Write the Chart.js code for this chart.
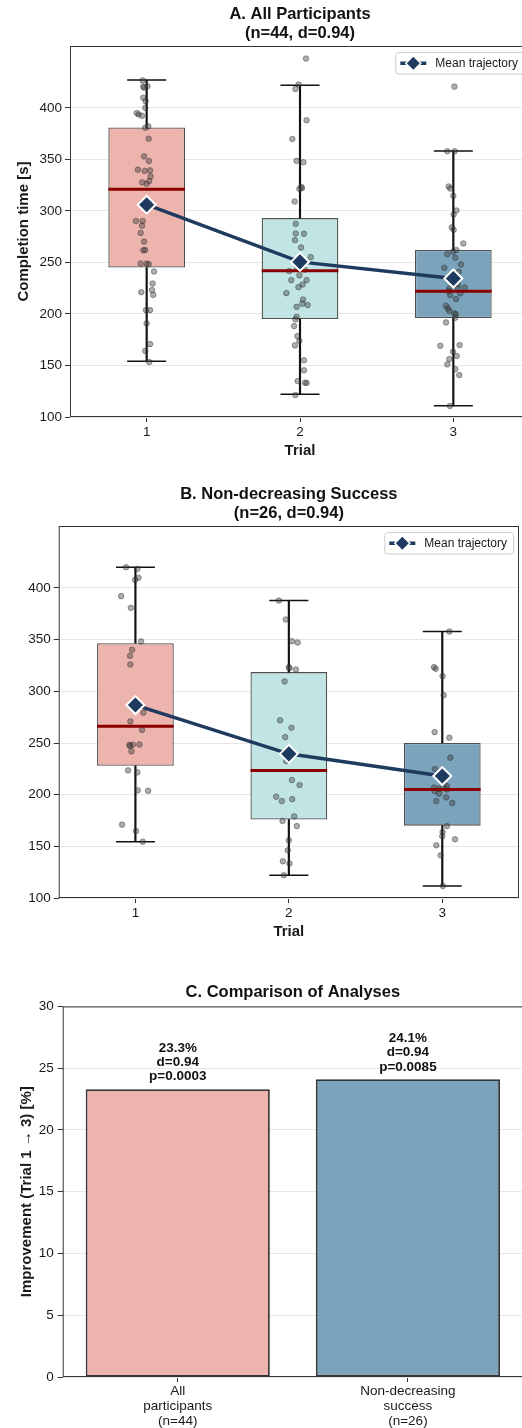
<!DOCTYPE html>
<html>
<head>
<meta charset="utf-8">
<script src="https://cdn.jsdelivr.net/npm/chart.js@4.4.0/dist/chart.umd.min.js"></script>
<style>
  html, body { margin: 0; padding: 0; background: #fff; overflow: hidden; width: 522px; height: 1428px; }
  canvas { position: absolute; left: 0; }
  #chartA { top: 0; }
  #chartB { top: 480px; }
  #chartC { top: 978px; }
</style>
</head>
<body>
<canvas id="chartA" width="530" height="463"></canvas>
<canvas id="chartB" width="519" height="464"></canvas>
<canvas id="chartC" width="523" height="450"></canvas>
<script>
const trials = [1, 2, 3];
const trialLabels = ['1', '2', '3'];

// A. all participants (n=44), completion time per trial [s]
const allT1 = [426.6, 420.7, 419.5, 409.8, 406.5, 400.0, 394.9, 393.6, 392.3, 380.7, 382.0, 370.0, 352.9, 348.4, 340.0, 338.7, 339.3, 333.5, 327.7, 326.4, 329.0, 290.2, 290.2, 285.7, 278.6, 270.2, 261.8, 248.9, 248.9, 248.3, 241.2, 229.6, 223.1, 221.1, 218.5, 203.7, 203.7, 190.8, 170.7, 164.2, 153.3, 421.0, 305.0, 262.0];
const allT2 = [447.8, 422.6, 418.3, 388.0, 369.8, 348.5, 347.2, 323.3, 321.4, 322.0, 309.1, 287.4, 278.1, 277.8, 271.6, 264.5, 255.1, 241.6, 232.8, 237.4, 232.8, 228.6, 220.2, 214.0, 206.9, 208.6, 197.3, 194.7, 188.2, 178.5, 174.0, 169.5, 155.0, 145.3, 134.9, 133.3, 133.0, 121.3, 250.0, 248.0, 244.0, 243.0, 226.0, 210.0];
const allT3 = [420.6, 357.9, 357.9, 323.7, 321.7, 314.6, 300.4, 296.5, 281.6, 268.4, 260.3, 254.5, 244.8, 240.9, 224.8, 225.7, 224.8, 218.3, 214.4, 208.0, 205.4, 202.8, 200.5, 199.6, 196.3, 191.8, 169.1, 169.8, 163.3, 159.1, 156.2, 151.1, 146.5, 140.7, 110.7, 236.0, 232.0, 229.0, 222.0, 220.0, 262.0, 258.0, 248.0, 284.0];
// horizontal jitter of each dot, in trial units
const allJit1 = [-0.026, -0.022, -0.017, -0.022, -0.007, -0.009, -0.065, -0.052, -0.030, -0.009, 0.011, 0.013, -0.017, 0.015, -0.057, -0.013, 0.022, 0.026, -0.030, 0.000, 0.017, -0.070, -0.026, -0.030, -0.039, -0.017, -0.022, -0.039, 0.000, 0.013, 0.048, 0.039, 0.035, -0.035, 0.043, -0.004, 0.022, 0.000, 0.022, -0.009, 0.017, 0.005, 0.030, -0.010];
const allJit2 = [0.039, -0.009, -0.030, 0.043, -0.050, -0.022, 0.022, 0.009, -0.004, 0.013, -0.035, -0.028, -0.028, 0.026, -0.033, 0.007, 0.070, -0.070, -0.057, -0.004, 0.043, 0.017, -0.089, 0.020, -0.022, 0.050, -0.022, -0.030, -0.039, -0.017, -0.004, -0.033, 0.026, 0.026, -0.015, 0.033, 0.043, -0.030, 0.000, 0.020, -0.020, 0.030, -0.010, 0.015];
const allJit3 = [0.007, -0.039, 0.009, -0.030, -0.020, 0.000, 0.020, 0.002, 0.002, 0.065, -0.002, 0.013, -0.059, 0.035, -0.026, 0.074, 0.030, -0.020, 0.017, -0.048, -0.035, -0.026, 0.007, 0.017, 0.011, -0.048, -0.085, 0.041, -0.002, 0.022, -0.026, -0.039, 0.013, 0.039, -0.022, 0.010, -0.015, 0.030, -0.030, 0.045, 0.020, -0.040, 0.050, -0.010];
const allQ1 = [245, 195, 196];
const allMedian = [321, 242, 222];
const allQ3 = [381, 293, 262];
const allLow = [154, 122, 111];
const allHigh = [427, 422, 358];
const allMean = [306, 250.5, 234.4];

// B. non-decreasing success (n=26)
const ndT1 = [420.1, 418.5, 407.9, 409.9, 392.1, 380.8, 348.3, 340.2, 334.4, 326.0, 279.3, 270.9, 262.5, 248.3, 248.3, 248.6, 241.9, 247.0, 223.5, 221.6, 204.2, 203.8, 171.0, 164.8, 154.5, 285.0];
const ndT2 = [387.9, 369.5, 348.5, 347.3, 323.4, 322.4, 321.2, 309.6, 271.9, 264.8, 255.7, 232.5, 214.1, 209.3, 198.1, 193.8, 195.7, 179.0, 174.5, 169.6, 155.8, 146.1, 135.5, 133.3, 122.0, 241.0];
const ndT3 = [357.9, 323.4, 321.8, 314.7, 296.3, 260.5, 255.1, 235.8, 224.8, 208.3, 206.8, 203.5, 201.0, 197.4, 193.8, 191.9, 169.6, 163.8, 159.7, 156.8, 151.0, 141.3, 111.6, 210.0, 206.0, 205.0];
const ndJit1 = [-0.061, 0.013, -0.002, 0.020, -0.093, -0.030, 0.037, -0.022, -0.035, -0.033, 0.052, -0.033, 0.043, -0.039, -0.017, 0.026, -0.026, -0.035, -0.048, 0.013, 0.015, 0.083, -0.087, 0.004, 0.048, 0.000];
const ndJit2 = [-0.065, -0.020, 0.020, 0.057, 0.000, 0.004, 0.046, -0.028, -0.057, 0.017, -0.024, -0.017, 0.020, 0.070, -0.083, -0.046, 0.022, 0.035, -0.041, 0.052, 0.000, -0.007, -0.039, 0.004, -0.033, 0.010];
const ndJit3 = [0.046, -0.054, -0.043, 0.002, 0.009, -0.050, 0.046, 0.052, -0.048, 0.030, -0.054, -0.050, -0.020, 0.026, -0.039, 0.065, 0.030, 0.002, 0.000, 0.083, -0.039, -0.011, 0.004, 0.010, -0.020, 0.030];
const ndQ1 = [228, 176, 170];
const ndMedian = [266.3, 223.5, 205];
const ndQ3 = [346.5, 318.6, 250];
const ndLow = [154.5, 122, 111.6];
const ndHigh = [420, 388, 358];
const ndMean = [286.7, 239.5, 218];

// C. comparison
const analysisLabels = [['All', 'participants', '(n=44)'], ['Non-decreasing', 'success', '(n=26)']];
const improvement = [23.3, 24.1];
const effectD = ['0.94', '0.94'];
const pValues = ['0.0003', '0.0085'];

const boxColors = ['#ecb4ad', '#c1e5e5', '#7ba3bb'];
const barColors = ['#ecb4ad', '#7ba3bb'];
const meanColor = '#1f3a5f';
const FONT = '"Liberation Sans", Arial, Helvetica, sans-serif';
const TICK = {size: 13.5};
const AXIS_TITLE = {size: 15, weight: 'bold'};

Chart.defaults.font.family = FONT;
Chart.defaults.color = '#1a1a1a';
Chart.defaults.animation = false;
Chart.defaults.events = [];
Chart.defaults.plugins.legend.display = false;
Chart.defaults.plugins.tooltip.enabled = false;

const framePlugin = {
  id: 'frame',
  afterDraw(chart) {
    const {ctx, chartArea: a} = chart;
    ctx.save();
    ctx.strokeStyle = '#333';
    ctx.lineWidth = 1;
    ctx.strokeRect(a.left + 0.5, a.top + 0.5, a.width - 1, a.height - 1);
    ctx.restore();
  }
};

const meanLegend = {
  id: 'meanLegend',
  afterDraw(chart) {
    const {ctx, chartArea: a} = chart;
    const label = 'Mean trajectory';
    ctx.save();
    ctx.font = '12px ' + FONT;
    const w = 40 + ctx.measureText(label).width + 6;
    const h = 21.5;
    const x0 = a.right - 6 - w, y0 = a.top + 6;
    ctx.fillStyle = 'rgba(255,255,255,0.85)';
    ctx.strokeStyle = '#cccccc';
    ctx.lineWidth = 1;
    ctx.beginPath();
    ctx.roundRect(x0 + 0.5, y0 + 0.5, w, h, 3);
    ctx.fill();
    ctx.stroke();
    const cy = y0 + h / 2 + 0.5;
    ctx.strokeStyle = meanColor;
    ctx.lineWidth = 3.5;
    ctx.beginPath();
    ctx.moveTo(x0 + 5, cy);
    ctx.lineTo(x0 + 31, cy);
    ctx.stroke();
    const cx = x0 + 18, r = 7.5;
    ctx.fillStyle = meanColor;
    ctx.strokeStyle = '#fff';
    ctx.lineWidth = 1.5;
    ctx.beginPath();
    ctx.moveTo(cx, cy - r);
    ctx.lineTo(cx + r, cy);
    ctx.lineTo(cx, cy + r);
    ctx.lineTo(cx - r, cy);
    ctx.closePath();
    ctx.fill();
    ctx.stroke();
    ctx.fillStyle = '#1a1a1a';
    ctx.textBaseline = 'middle';
    ctx.fillText(label, x0 + 40, cy);
    ctx.restore();
  }
};

function titleCfg(lines, top, bottom) {
  return {
    display: true, text: lines, fullSize: false, align: 'center', color: '#111',
    font: {size: 16.5, weight: 'bold', lineHeight: '19px'},
    padding: {top: top, bottom: bottom}
  };
}

function boxChart(id, title, yTitle, yWidth, values, jitter, q1, med, q3, lo, hi, mean) {
  const boxData = trials.map((t, i) => ({x: t, y: [q1[i], q3[i]]}));
  const whiskerData = trials.flatMap((t, i) => [{x: t, y: [lo[i], q1[i]]}, {x: t, y: [q3[i], hi[i]]}]);
  const capData = trials.flatMap((t, i) => [{x: t, y: lo[i]}, {x: t, y: hi[i]}]);
  const medianData = trials.map((t, i) => ({x: t, y: med[i]}));
  const dots = trials.flatMap((t, i) => values[i].map((v, j) => ({x: t + jitter[i][j], y: v})));
  const meanData = trials.map((t, i) => ({x: t, y: mean[i]}));

  return new Chart(document.getElementById(id), {
    type: 'bar',
    data: {
      datasets: [
        { type: 'bar', data: boxData, backgroundColor: boxColors, borderColor: '#505050', borderWidth: 1.3,
          borderSkipped: false, grouped: false, barPercentage: 0.5, categoryPercentage: 1, order: 6 },
        { type: 'bar', data: whiskerData, backgroundColor: '#111', borderWidth: 0,
          grouped: false, barThickness: 1.5, order: 5 },
        { type: 'scatter', data: capData, pointStyle: 'line', pointRadius: 19.5,
          pointBorderColor: '#111', pointBorderWidth: 1.5, order: 4 },
        { type: 'scatter', data: dots, pointRadius: 2.8, pointBackgroundColor: 'rgba(60,60,60,0.42)',
          pointBorderColor: 'rgba(40,40,40,0.5)', pointBorderWidth: 0.8, order: 3 },
        { type: 'scatter', data: medianData, pointStyle: 'line', pointRadius: 38.3,
          pointBorderColor: '#8b0000', pointBorderWidth: 3, order: 2 },
        { type: 'line', data: meanData, borderColor: meanColor, borderWidth: 3.5, tension: 0,
          pointStyle: 'rectRot', pointRadius: 9, pointBackgroundColor: meanColor,
          pointBorderColor: '#fff', pointBorderWidth: 2, order: 1 }
      ]
    },
    options: {
      responsive: false,
      layout: {padding: 0, autoPadding: false},
      plugins: {title: titleCfg(title, 5, 3)},
      scales: {
        x: {
          type: 'linear', min: 0.5, max: 3.5, offset: false,
          afterBuildTicks: s => { s.ticks = trials.map(v => ({value: v})); },
          afterFit: s => { s.height = 46; },
          ticks: {callback: v => trialLabels[trials.indexOf(v)], font: TICK, padding: 2},
          grid: {offset: false, drawOnChartArea: false, tickLength: 5, tickColor: '#333'},
          border: {display: false},
          title: {display: true, text: 'Trial', font: AXIS_TITLE, padding: {top: 0, bottom: 3}}
        },
        y: {
          min: 100, max: 460,
          afterBuildTicks: s => { s.ticks = s.ticks.filter(t => t.value % 50 === 0); },
          afterFit: s => { s.width = yWidth; },
          ticks: {stepSize: 50, font: TICK, padding: 3},
          grid: {color: '#e6e6e6', tickLength: 5, tickColor: '#333'},
          border: {display: false},
          title: {display: !!yTitle, text: yTitle, font: AXIS_TITLE, padding: {top: 15, bottom: 0}}
        }
      }
    },
    plugins: [framePlugin, meanLegend]
  });
}

boxChart('chartA', ['A. All Participants', '(n=44, d=0.94)'], 'Completion time [s]', 70,
  [allT1, allT2, allT3], [allJit1, allJit2, allJit3], allQ1, allMedian, allQ3, allLow, allHigh, allMean);

boxChart('chartB', ['B. Non-decreasing Success', '(n=26, d=0.94)'], '', 58.7,
  [ndT1, ndT2, ndT3], [ndJit1, ndJit2, ndJit3], ndQ1, ndMedian, ndQ3, ndLow, ndHigh, ndMean);

const barLabels = {
  id: 'barLabels',
  afterDatasetsDraw(chart) {
    const {ctx} = chart;
    const bars = chart.getDatasetMeta(0).data;
    ctx.save();
    ctx.font = 'bold 13.5px ' + FONT;
    ctx.fillStyle = '#111';
    ctx.textAlign = 'center';
    ctx.textBaseline = 'middle';
    bars.forEach((bar, i) => {
      const lines = [improvement[i].toFixed(1) + '%', 'd=' + effectD[i], 'p=' + pValues[i]];
      lines.forEach((txt, k) => {
        ctx.fillText(txt, bar.x, bar.y - 12.5 - (lines.length - 1 - k) * 14.4);
      });
    });
    ctx.restore();
  }
};

new Chart(document.getElementById('chartC'), {
  type: 'bar',
  data: {
    labels: analysisLabels,
    datasets: [{
      data: improvement, backgroundColor: barColors, borderColor: '#333', borderWidth: 1.8,
      borderSkipped: false, barPercentage: 0.8, categoryPercentage: 1
    }]
  },
  options: {
    responsive: false,
    layout: {padding: 0},
    plugins: {title: titleCfg('C. Comparison of Analyses', 5, 4.4)},
    scales: {
      x: {
        afterFit: s => { s.height = 51; },
        ticks: {font: {size: 13.5, lineHeight: '15px'}, padding: 2, maxRotation: 0, autoSkip: false},
        grid: {offset: false, drawOnChartArea: false, tickLength: 5, tickColor: '#333'},
        border: {display: false}
      },
      y: {
        min: 0, max: 30,
        afterFit: s => { s.width = 62.7; },
        ticks: {stepSize: 5, font: TICK, padding: 4},
        grid: {color: '#e6e6e6', tickLength: 5, tickColor: '#333'},
        border: {display: false},
        title: {display: true, text: 'Improvement (Trial 1 \u2192 3) [%]', font: AXIS_TITLE, padding: {top: 18, bottom: 0}}
      }
    }
  },
  plugins: [framePlugin, barLabels]
});
</script>
</body>
</html>
